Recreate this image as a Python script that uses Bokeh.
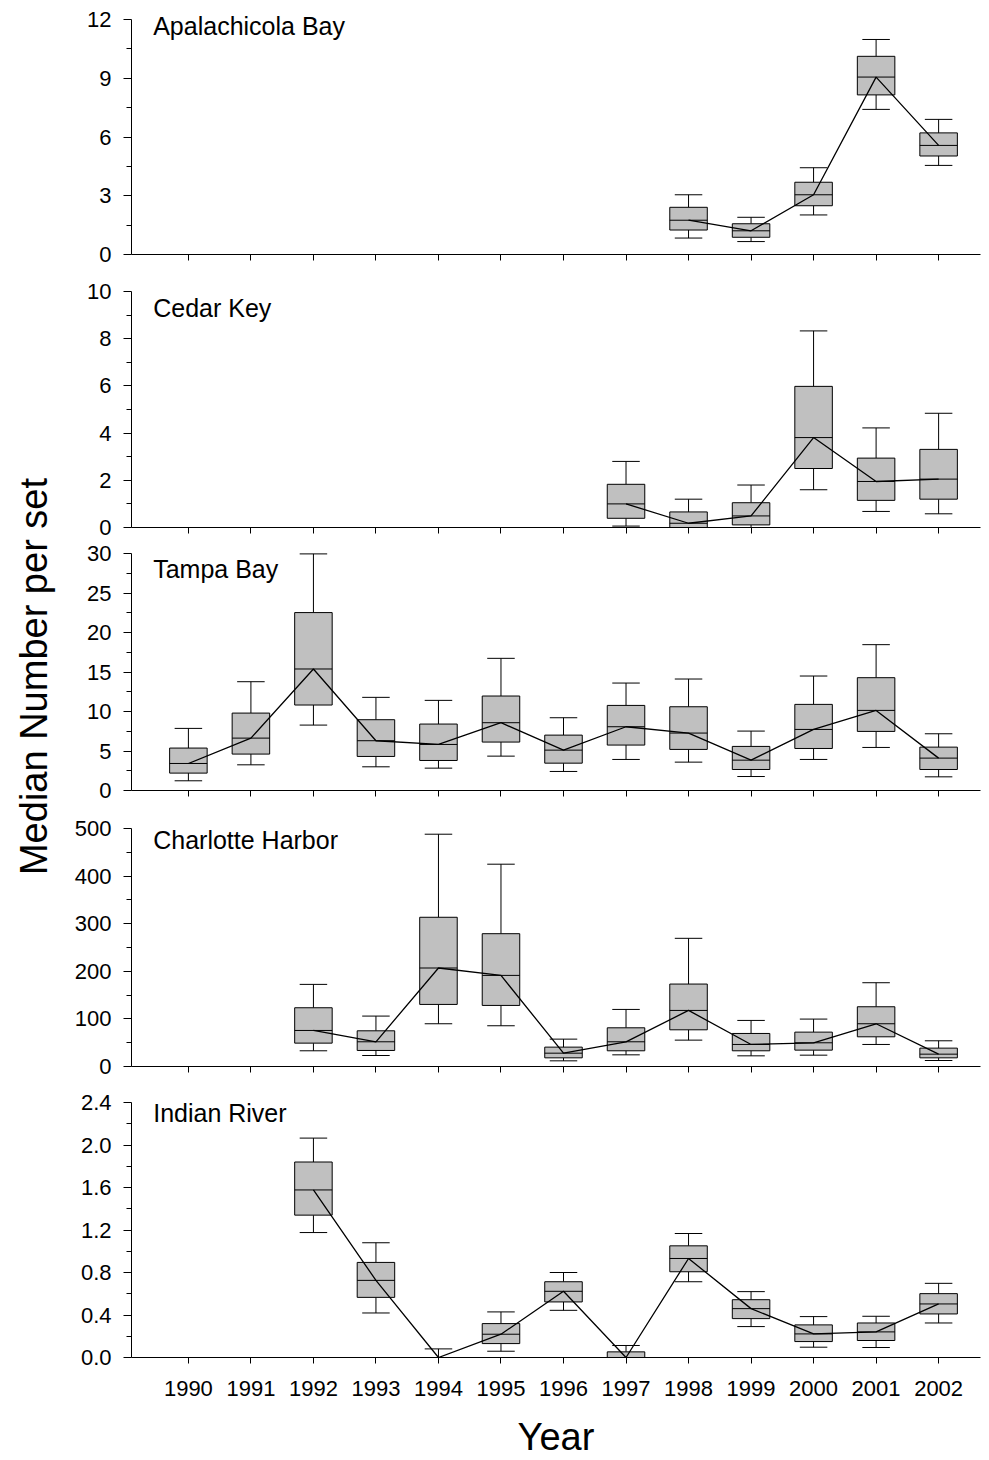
from bokeh.plotting import figure
from bokeh.layouts import row, column
from bokeh.models import Range1d, FixedTicker, Label, CustomJSTickFormatter
from bokeh.embed import file_html
from bokeh.resources import INLINE
import math

FONT = "Liberation Sans"
YEARS = list(range(1990, 2003))

# ---- data: whisker low, 25th pct, median, 75th pct, whisker high ----
apa_years = [1998, 1999, 2000, 2001, 2002]
apa_wlo = [0.84, 0.66, 2.02, 7.41, 4.55]
apa_q1 = [1.25, 0.88, 2.49, 8.15, 5.03]
apa_med = [1.75, 1.21, 3.05, 9.06, 5.57]
apa_q3 = [2.41, 1.57, 3.69, 10.12, 6.21]
apa_whi = [3.05, 1.90, 4.43, 10.98, 6.90]

ced_years = [1997, 1998, 1999, 2000, 2001, 2002]
ced_wlo = [0.06, 0.0, 0.0, 1.60, 0.68, 0.58]
ced_q1 = [0.39, 0.0, 0.11, 2.50, 1.15, 1.20]
ced_med = [1.00, 0.18, 0.49, 3.81, 1.95, 2.05]
ced_q3 = [1.83, 0.66, 1.05, 5.98, 2.94, 3.31]
ced_whi = [2.80, 1.20, 1.80, 8.33, 4.22, 4.84]

tam_years = YEARS
tam_wlo = [1.23, 3.25, 8.28, 3.00, 2.83, 4.35, 2.41, 3.93, 3.59, 1.77, 3.93, 5.45, 1.73]
tam_q1 = [2.20, 4.61, 10.82, 4.31, 3.80, 6.13, 3.46, 5.75, 5.20, 2.66, 5.32, 7.48, 2.66]
tam_med = [3.42, 6.63, 15.38, 6.30, 5.83, 8.58, 5.11, 8.07, 7.27, 3.84, 7.73, 10.14, 4.10]
tam_q3 = [5.37, 9.80, 22.52, 8.96, 8.41, 11.96, 7.01, 10.77, 10.60, 5.58, 10.90, 14.28, 5.49]
tam_whi = [7.86, 13.77, 29.95, 11.79, 11.41, 16.73, 9.21, 13.60, 14.11, 7.52, 14.49, 18.46, 7.18]

cha_years = list(range(1992, 2003))
cha_wlo = [33.0, 23.1, 89.8, 85.6, 11.9, 24.5, 55.4, 22.4, 23.8, 46.3, 12.6]
cha_q1 = [49.1, 33.7, 130.4, 128.3, 18.2, 33.0, 77.1, 33.0, 34.4, 62.4, 18.2]
cha_med = [75.7, 51.9, 206.9, 191.4, 28.0, 51.9, 117.8, 46.3, 49.8, 89.8, 25.9]
cha_q3 = [123.4, 75.0, 313.5, 279.0, 40.7, 81.3, 173.2, 69.4, 72.2, 125.5, 38.6]
cha_whi = [172.5, 105.9, 488.0, 425.0, 57.5, 119.9, 269.3, 96.8, 99.6, 176.0, 54.0]

ind_years = list(range(1992, 2003))
ind_wlo = [1.176, 0.419, 0.0, 0.059, 0.444, 0.0, 0.713, 0.291, 0.097, 0.094, 0.325]
ind_q1 = [1.34, 0.566, 0.0, 0.131, 0.523, 0.0, 0.807, 0.366, 0.150, 0.160, 0.41]
ind_med = [1.577, 0.726, 0.0, 0.219, 0.623, 0.0, 0.932, 0.46, 0.222, 0.241, 0.504]
ind_q3 = [1.84, 0.895, 0.0, 0.319, 0.713, 0.053, 1.051, 0.544, 0.307, 0.325, 0.601]
ind_whi = [2.065, 1.08, 0.081, 0.429, 0.80, 0.113, 1.167, 0.62, 0.385, 0.388, 0.698]

panels = [
    dict(name="Apalachicola Bay", years=apa_years, wlo=apa_wlo, q1=apa_q1, med=apa_med,
         q3=apa_q3, whi=apa_whi, ymax=12, ticks=[0, 3, 6, 9, 12], fmt="{:.0f}"),
    dict(name="Cedar Key", years=ced_years, wlo=ced_wlo, q1=ced_q1, med=ced_med,
         q3=ced_q3, whi=ced_whi, ymax=10, ticks=[0, 2, 4, 6, 8, 10], fmt="{:.0f}"),
    dict(name="Tampa Bay", years=tam_years, wlo=tam_wlo, q1=tam_q1, med=tam_med,
         q3=tam_q3, whi=tam_whi, ymax=30, ticks=[0, 5, 10, 15, 20, 25, 30], fmt="{:.0f}"),
    dict(name="Charlotte Harbor", years=cha_years, wlo=cha_wlo, q1=cha_q1, med=cha_med,
         q3=cha_q3, whi=cha_whi, ymax=500, ticks=[0, 100, 200, 300, 400, 500], fmt="{:.0f}"),
    dict(name="Indian River", years=ind_years, wlo=ind_wlo, q1=ind_q1, med=ind_med,
         q3=ind_q3, whi=ind_whi, ymax=2.4, ticks=[0, 0.4, 0.8, 1.2, 1.6, 2.0, 2.4], fmt="{:.1f}"),
]

# ---- layout (pixels) ----
TITLE_W = 60
PANEL_W = 929
LEFT = 71
RIGHT = 9
XMIN, XMAX = 1989.09, 2002.67
# figure height, gap above the top tick, bottom border, label offset below the top tick
geom = [
    (273, 19, 19, 6),
    (267, 18, 13, 16),
    (269, 13, 19, 15),
    (275, 19, 18, 11),
    (376, 18, 103, 10),
]
HEADROOM = 10   # frame extends this many px above the top tick so labels are not clipped
BOX_W = 0.6
CAP_W = 0.44

figs = []
for i, (pan, (h, top, bot, lab_off)) in enumerate(zip(panels, geom)):
    last = i == len(panels) - 1
    tick_span = h - top - bot            # px between 0 and the top tick
    ppu = tick_span / pan["ymax"]        # px per data unit
    head = min(HEADROOM, top - 2)
    y_end = pan["ymax"] + head / ppu
    p = figure(width=PANEL_W, height=h, x_range=Range1d(XMIN, XMAX),
               y_range=Range1d(0, y_end), toolbar_location=None,
               output_backend="svg", min_border_left=LEFT, min_border_right=RIGHT,
               min_border_top=top - head, min_border_bottom=bot)
    p.outline_line_color = None
    p.xgrid.visible = False
    p.ygrid.visible = False
    p.background_fill_color = "white"
    p.border_fill_color = "white"

    yrs = pan["years"]
    # whiskers
    p.segment(x0=yrs, y0=pan["q3"], x1=yrs, y1=pan["whi"], line_color="black", line_width=1)
    p.segment(x0=yrs, y0=pan["wlo"], x1=yrs, y1=pan["q1"], line_color="black", line_width=1)
    p.segment(x0=[y - CAP_W / 2 for y in yrs], y0=pan["whi"],
              x1=[y + CAP_W / 2 for y in yrs], y1=pan["whi"], line_color="black", line_width=1)
    p.segment(x0=[y - CAP_W / 2 for y in yrs], y0=pan["wlo"],
              x1=[y + CAP_W / 2 for y in yrs], y1=pan["wlo"], line_color="black", line_width=1)
    # boxes
    p.vbar(x=yrs, width=BOX_W, bottom=pan["q1"], top=pan["q3"],
           fill_color="#c0c0c0", line_color="black", line_width=1)
    # medians
    p.segment(x0=[y - BOX_W / 2 for y in yrs], y0=pan["med"],
              x1=[y + BOX_W / 2 for y in yrs], y1=pan["med"], line_color="black", line_width=1)
    # median trend line
    p.line(yrs, pan["med"], line_color="black", line_width=1.3)

    # axes
    yt = pan["ticks"]
    step = yt[1] - yt[0]
    minors = [t + step / 2 for t in yt[:-1]]
    p.yaxis.ticker = FixedTicker(ticks=yt, minor_ticks=minors)
    p.yaxis.bounds = (0, pan["ymax"])
    p.yaxis.major_label_overrides = {t: pan["fmt"].format(t) for t in yt}
    p.xaxis.ticker = FixedTicker(ticks=YEARS, minor_ticks=[])
    for ax in (p.xaxis[0], p.yaxis[0]):
        ax.axis_line_color = "black"
        ax.major_tick_line_color = "black"
        ax.minor_tick_line_color = "black"
        ax.major_tick_in = 0
        ax.minor_tick_in = 0
        ax.major_label_text_font = FONT
        ax.major_label_text_font_size = "22px"
        ax.major_label_text_color = "black"
    p.yaxis.major_tick_out = 8
    p.yaxis.minor_tick_out = 5
    p.yaxis.major_label_standoff = 12
    p.xaxis.major_tick_out = 6
    if last:
        p.xaxis.major_label_standoff = 17
        p.xaxis.axis_label = "Year"
        p.xaxis.axis_label_text_font = FONT
        p.xaxis.axis_label_text_font_size = "38px"
        p.xaxis.axis_label_text_font_style = "normal"
        p.xaxis.axis_label_text_color = "black"
        p.xaxis.axis_label_standoff = 17
    else:
        p.xaxis.formatter = CustomJSTickFormatter(code="return ''")
        p.xaxis.major_label_standoff = 0

    ylab = pan["ymax"] - lab_off / ppu
    xlab = XMIN + (152.7 - (TITLE_W + LEFT)) / ((PANEL_W - LEFT - RIGHT) / (XMAX - XMIN))
    p.add_layout(Label(x=xlab, y=ylab, text=pan["name"], text_font=FONT,
                       text_font_size="25px", text_color="black",
                       text_baseline="alphabetic", text_align="left"))
    figs.append(p)

# rotated y-axis title in a narrow strip on the left
t = figure(width=TITLE_W, height=1460, x_range=Range1d(0, TITLE_W), y_range=Range1d(0, 1460),
           toolbar_location=None, output_backend="svg", min_border=0)
t.axis.visible = False
t.grid.visible = False
t.outline_line_color = None
t.add_layout(Label(x=33, y=1460 - 676, text="Median Number per set", text_font=FONT,
                   text_font_size="38px", text_color="black", angle=math.pi / 2,
                   text_baseline="middle", text_align="center"))

layout = row(t, column(*figs, spacing=0), spacing=0)
open("out.html", "w").write(file_html(layout, INLINE))
